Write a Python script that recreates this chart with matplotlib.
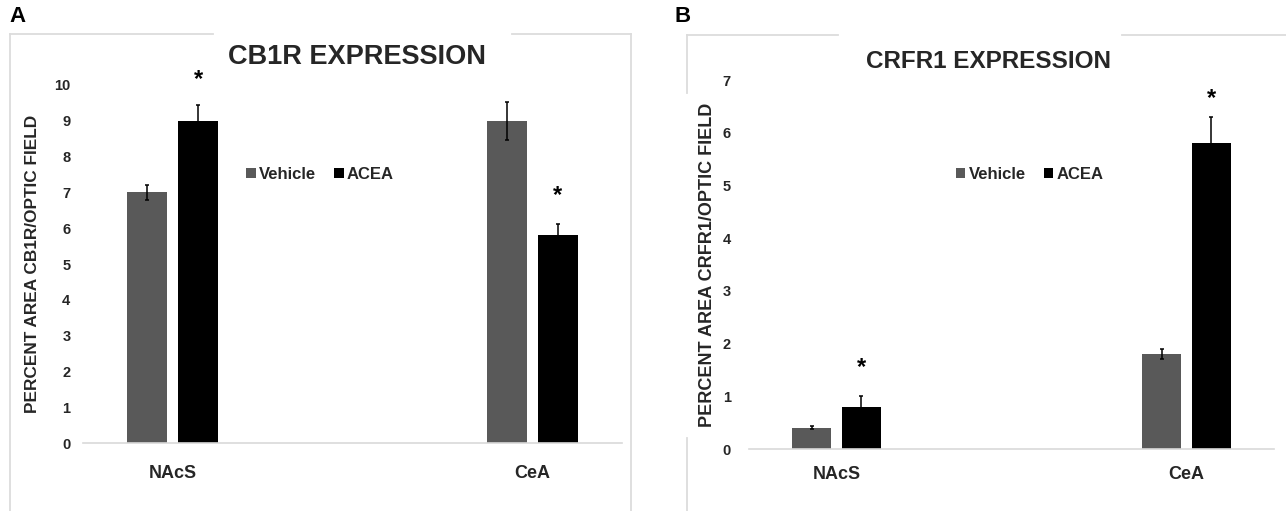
import matplotlib
matplotlib.use('Agg')
import matplotlib.pyplot as plt
from matplotlib.lines import Line2D

plt.rcParams['font.family'] = ['Liberation Sans', 'DejaVu Sans']
plt.rcParams['font.weight'] = 'bold'
plt.rcParams['axes.labelweight'] = 'bold'

regions = ['NAcS', 'CeA']
groups = ['Vehicle', 'ACEA']
colors = ['#595959', '#000000']

cb1r_vehicle = [7.0, 9.0]
cb1r_vehicle_err = [0.22, 0.53]
cb1r_acea = [9.0, 5.8]
cb1r_acea_err = [0.43, 0.33]
cb1r_star = [10.15, 6.9]

crfr1_vehicle = [0.4, 1.8]
crfr1_vehicle_err = [0.03, 0.1]
crfr1_acea = [0.8, 5.8]
crfr1_acea_err = [0.21, 0.5]
crfr1_star = [1.55, 6.65]

W, H = 1286, 511
fig = plt.figure(figsize=(W / 100, H / 100), dpi=100)


def px_axes(x0, x1, y_top, y_bot):
    return fig.add_axes([x0 / W, 1 - y_bot / H, (x1 - x0) / W, (y_bot - y_top) / H])


def draw(ax, veh, veh_err, acea, acea_err, stars, ymax, ylabel, ylsize, ytickpad, xtickpad, label_x, leg_xy):
    x = range(len(regions))
    off, w = 0.071, 0.111
    ax.bar([i - off for i in x], veh, w, color=colors[0], label=groups[0],
           yerr=veh_err, error_kw=dict(ecolor='black', elinewidth=1.1, capsize=1.5, capthick=1.1))
    ax.bar([i + off for i in x], acea, w, color=colors[1], label=groups[1],
           yerr=acea_err, error_kw=dict(ecolor='black', elinewidth=1.1, capsize=1.5, capthick=1.1))
    for i, s in zip(x, stars):
        ax.text(i + off, s, '*', ha='center', va='center', fontsize=17, fontweight='bold')
    ax.set_xlim(-0.25, 1.25)
    ax.set_ylim(0, ymax)
    ax.set_yticks(range(ymax + 1))
    ax.set_xticks(list(x))
    ax.set_xticklabels(regions, fontsize=13, color='#262626', fontweight='bold')
    ax.tick_params(axis='y', length=0, pad=ytickpad, labelsize=10.5, labelcolor='#262626')
    for t in ax.get_yticklabels():
        t.set_fontweight('bold')
    ax.tick_params(axis='x', length=0, pad=xtickpad)
    for s in ['top', 'right', 'left']:
        ax.spines[s].set_visible(False)
    ax.spines['bottom'].set_color('#d9d9d9')
    ax.spines['bottom'].set_linewidth(1.2)
    ax.set_ylabel(ylabel, fontsize=ylsize, color='#262626', fontweight='bold')
    ax.yaxis.set_label_coords(label_x, 0.5)
    ax.legend(loc='center', bbox_to_anchor=leg_xy, ncol=2, frameon=False,
              prop=dict(size=12, weight='bold'),
              handlelength=0.55, handleheight=0.55, handletextpad=0.2, columnspacing=1.1,
              labelcolor='#262626')


axA = px_axes(83, 622, 85, 443)
draw(axA, cb1r_vehicle, cb1r_vehicle_err, cb1r_acea, cb1r_acea_err, cb1r_star, 10,
     'PERCENT AREA CB1R/OPTIC FIELD', 12.4, 9, 16, -0.08, (0.44, 0.749))

axB = px_axes(749, 1274, 80, 449)
draw(axB, crfr1_vehicle, crfr1_vehicle_err, crfr1_acea, crfr1_acea_err, crfr1_star, 7,
     'PERCENT AREA CRFR1/OPTIC FIELD', 13, 13, 12, -0.063, (0.535, 0.743))

# panel frames (light grey, open at title)
frame = dict(color='#dcdcdc', lw=1.3, transform=fig.transFigure)


def seg(x0, y0, x1, y1):
    fig.add_artist(Line2D([x0 / W, x1 / W], [1 - y0 / H, 1 - y1 / H], **frame))


seg(10, 34, 213, 34)
seg(512, 34, 631, 34)
seg(10, 34, 10, 511)
seg(631, 34, 631, 511)
seg(687, 35, 838, 35)
seg(1122, 35, 1286, 35)
seg(687, 35, 687, 93)
seg(687, 438, 687, 511)

fig.text(357 / W, 1 - 57 / H, 'CB1R EXPRESSION', ha='center', va='center', fontsize=19.5,
         fontweight='bold', color='#262626')
fig.text(988 / W, 1 - 62 / H, 'CRFR1 EXPRESSION', ha='center', va='center', fontsize=17.5,
         fontweight='bold', color='#262626')
fig.text(18 / W, 1 - 17 / H, 'A', ha='center', va='center', fontsize=16, fontweight='bold')
fig.text(683 / W, 1 - 17 / H, 'B', ha='center', va='center', fontsize=16, fontweight='bold')

fig.savefig('out.png', dpi=100)
